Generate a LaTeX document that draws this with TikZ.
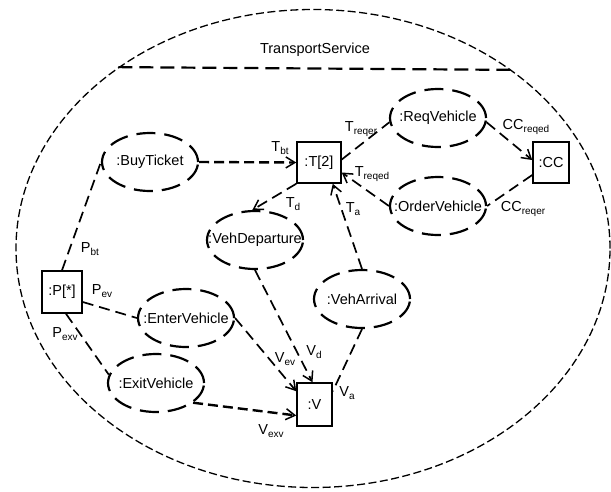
\documentclass[tikz,border=0pt]{standalone}
\usepackage{fontspec}
\setmainfont{Liberation Sans}
\usetikzlibrary{shapes.geometric,arrows.meta}
\newcommand\sbs[1]{\raisebox{-2.5pt}{\fontsize{10}{10}\selectfont #1}}
\begin{document}
\begin{tikzpicture}[x=1pt,y=-1pt,
  font=\fontsize{14.5}{16}\selectfont,
  proc/.style={ellipse, draw, line width=2.2pt, dash pattern=on 19pt off 9pt,
    minimum width=96pt, minimum height=58pt, inner sep=0pt},
  obj/.style={rectangle, draw, line width=1.5pt, inner sep=0pt},
  conn/.style={line width=1.7pt, dash pattern=on 11pt off 6pt},
  heavy/.style={line width=2.4pt, dash pattern=on 10pt off 5pt},
  tip/.style={-{Straight Barb[length=9pt,width=11pt,line width=1.5pt]}},
  lbl/.style={inner sep=0pt}]
\useasboundingbox (0,0) rectangle (611,491);
% container
\node[ellipse, draw, line width=1.3pt, dash pattern=on 8pt off 3.5pt,
  minimum width=594pt, minimum height=478pt, inner sep=0pt] (svc) at (313,248.5) {};
\draw[line width=2.2pt, dash pattern=on 14pt off 7pt] (svc.137.9) -- (svc.42.1);
\node (title) at (315,50) {TransportService};
% boxes
\node[obj, minimum width=44pt, minimum height=41pt] (t) at (319,162.5) {:T[2]};
\node[obj, minimum width=36pt, minimum height=41pt] (cc) at (551,162.5) {:CC};
\node[obj, minimum width=40pt, minimum height=42pt] (p) at (62,292) {:P[*]};
\node[obj, minimum width=35pt, minimum height=43pt] (v) at (314.5,404.5) {:V};
% processes
\node[proc] (bt) at (150,162) {\makebox[0pt]{:BuyTicket}};
\node[proc] (rv) at (438,118) {\makebox[0pt]{:ReqVehicle}};
\node[proc] (ov) at (438,206) {\makebox[0pt]{:OrderVehicle}};
\node[proc] (vd) at (255,240) {\makebox[0pt]{:VehDeparture}};
\node[proc] (va) at (362,299) {\makebox[0pt]{:VehArrival}};
\node[proc] (ev) at (186,318) {\makebox[0pt]{:EnterVehicle}};
\node[proc] (ex) at (156,383) {\makebox[0pt]{:ExitVehicle}};
% connectors
\draw[heavy, tip] (bt.east) -- (t.west);
\draw[conn] (p.north) -- (bt.west);
\draw[conn] ([yshift=3pt]t.east) -- (rv.185);
\draw[conn, tip] (rv.-5) -- ([yshift=2.5pt]cc.west);
\draw[conn] ([yshift=-12.5pt]cc.west) -- (ov.east);
\draw[conn, tip] (ov.west) -- ([yshift=-10pt]t.east);
\draw[conn, tip] (t.south west) -- (vd.95);
\draw[conn, tip] (va.north) -- ([xshift=-9pt]t.south east);
\draw[conn, tip] (vd.south) -- ([xshift=-2pt]v.north);
\draw[conn, tip] (ev.east) -- ([yshift=-9pt]v.north west);
\draw[conn] ([yshift=-10pt]p.east) -- (ev.west);
\draw[conn] ([xshift=4pt]p.south) -- (ex.170);
\draw[heavy, tip] (ex.-28) -- ([yshift=-11pt]v.west);
\draw[conn] (va.south) -- ([yshift=-9pt]v.north east);
% labels
\node[lbl] (lTbt) at (280,148) {T\sbs{bt}};
\node[lbl] (lPbt) at (90,249) {P\sbs{bt}};
\node[lbl] (lTreqer) at (361,129) {T\sbs{reqer}};
\node[lbl] (lCCreqed) at (526,127) {CC\sbs{reqed}};
\node[lbl] (lTreqed) at (372,174) {T\sbs{reqed}};
\node[lbl] (lCCreqer) at (523,209) {CC\sbs{reqer}};
\node[lbl] (lTd) at (293,204) {T\sbs{d}};
\node[lbl] (lTa) at (353,209) {T\sbs{a}};
\node[lbl] (lPev) at (102,291) {P\sbs{ev}};
\node[lbl] (lPexv) at (65,334) {P\sbs{exv}};
\node[lbl] (lVev) at (285,359) {V\sbs{ev}};
\node[lbl] (lVd) at (314,352) {V\sbs{d}};
\node[lbl] (lVa) at (347,393) {V\sbs{a}};
\node[lbl] (lVexv) at (271,431) {V\sbs{exv}};
\end{tikzpicture}
\end{document}
